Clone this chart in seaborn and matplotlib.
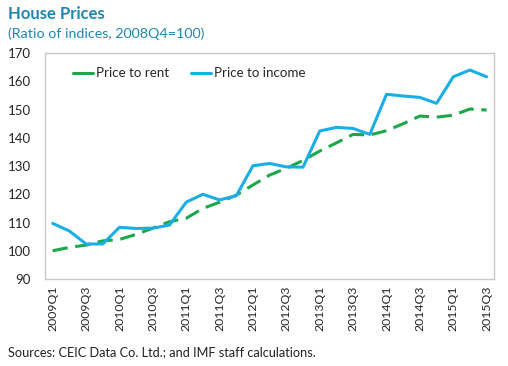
import pandas as pd
import numpy as np
import seaborn as sns
import matplotlib.pyplot as plt
from matplotlib.lines import Line2D

# quarters 2009Q1 .. 2015Q3
quarters = ["%dQ%d" % (y, q) for y in range(2009, 2016) for q in range(1, 5)][:27]

price_to_rent = [100.0, 101.2, 102.0, 103.5, 104.0, 105.8, 108.0, 110.3,
                 111.5, 115.0, 117.2, 119.7, 123.3, 126.8, 129.2, 132.0,
                 135.3, 138.2, 141.2, 141.0, 142.5, 145.0, 147.7, 147.3,
                 148.0, 150.2, 149.8]
price_to_income = [109.7, 107.0, 102.4, 102.4, 108.3, 107.9, 108.0, 109.1,
                   117.2, 120.0, 118.0, 119.5, 130.1, 130.9, 129.7, 129.6,
                   142.4, 143.7, 143.3, 141.2, 155.4, 154.8, 154.3, 152.2,
                   161.6, 164.0, 161.6]

series_names = ["Price to rent", "Price to income"]
colors = {"Price to rent": "#1BA84A", "Price to income": "#1AAEE6"}

df = pd.DataFrame({"quarter": quarters * 2,
                   "idx": list(range(27)) * 2,
                   "value": price_to_rent + price_to_income,
                   "series": [series_names[0]] * 27 + [series_names[1]] * 27})

sns.set_style("white")
plt.rcParams["font.family"] = ["Lato", "DejaVu Sans"]

fig = plt.figure(figsize=(5.08, 3.66), dpi=100)
ax = fig.add_axes([0.0886, 0.2377, 0.8838, 0.6173])

sns.lineplot(data=df, x="idx", y="value", hue="series", style="series",
             palette=colors, dashes={"Price to rent": (5, 2.5), "Price to income": ""},
             linewidth=2.2, ax=ax, legend=False)

ax.set_xlim(-0.46, 26.44)
ax.set_ylim(90, 170)
ax.set_yticks(range(90, 171, 10))
ax.set_xticks(range(0, 27, 2))
ax.set_xticklabels(quarters[::2], rotation=90, fontsize=8.8)
ax.tick_params(axis="y", labelsize=9.5, length=0, pad=10)
ax.tick_params(axis="x", length=0, pad=5)
ax.set_xlabel("")
ax.set_ylabel("")
for s in ax.spines.values():
    s.set_color("#C8C8C8")
    s.set_linewidth(1)

handles = [Line2D([], [], color=colors[n], linewidth=2.2) for n in series_names]
ax.legend(handles, series_names, loc="upper left", ncol=2, frameon=False,
          fontsize=9.6, bbox_to_anchor=(0.035, 0.99), handlelength=1.55,
          handletextpad=0.2, columnspacing=1.6)

fig.text(0.016, 0.962, "House Prices", fontsize=12, fontweight="bold",
         color="#2286B0", va="center")
fig.text(0.016, 0.908, "(Ratio of indices, 2008Q4=100)", fontsize=10.3,
         color="#2286B0", va="center")
fig.text(0.016, 0.038, "Sources: CEIC Data Co. Ltd.; and IMF staff calculations.",
         fontsize=9.2, color="#222222", va="center")

fig.savefig("out.png", dpi=100)
